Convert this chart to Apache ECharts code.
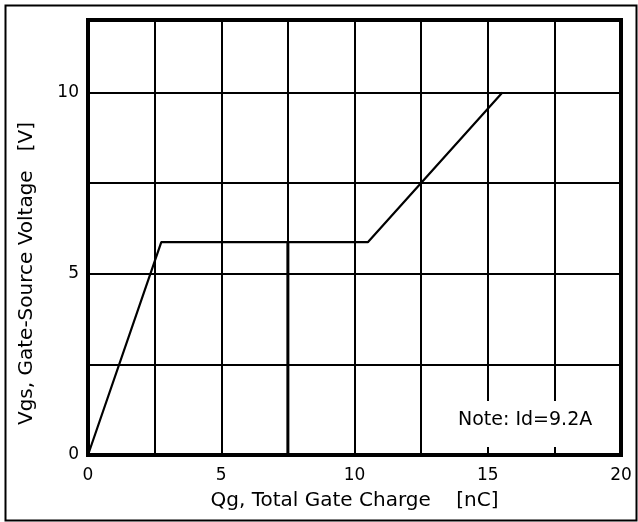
<!DOCTYPE html>
<html>
<head>
<meta charset="utf-8">
<script src="https://cdn.jsdelivr.net/npm/echarts@6/dist/echarts.min.js"></script>
<style>
html,body{margin:0;padding:0;background:#fff;}
#c{width:638px;height:522px;}
</style>
</head>
<body>
<div id="c"></div>
<script>
// Data
var qg = [0, 2.75, 10.5, 15.55];
var vgs = [0, 5.87, 5.87, 10];
var markX = [7.5, 7.5];
var markY = [0, 5.87];
var xTicks = [0, 5, 10, 15, 20];
var yTicks = [0, 5, 10];
var xTitle = 'Qg, Total Gate Charge    [nC]';
var yTitle = 'Vgs, Gate-Source Voltage   [V]';
var noteText = 'Note: Id=9.2A';

var font = 'DejaVu Sans';
var chart = echarts.init(document.getElementById('c'));
chart.setOption({
  animation: false,
  backgroundColor: '#fff',
  grid: {left: 88, top: 20, right: 17, bottom: 67, show: true, borderColor: '#000', borderWidth: 4, backgroundColor: 'transparent', z: 5},
  xAxis: {
    type: 'value', min: 0, max: 20, interval: 2.5,
    axisLine: {show: false}, axisTick: {show: false},
    splitLine: {show: true, lineStyle: {color: '#000', width: 2}},
    axisLabel: {color: '#000', fontFamily: font, fontSize: 17, margin: 12,
      formatter: function (v) { return xTicks.indexOf(v) >= 0 ? String(v) : ''; }},
    name: xTitle, nameLocation: 'middle', nameGap: 36,
    nameTextStyle: {color: '#000', fontFamily: font, fontSize: 20}
  },
  yAxis: {
    type: 'value', min: 0, max: 12, interval: 2.5,
    axisLine: {show: false}, axisTick: {show: false},
    splitLine: {show: true, lineStyle: {color: '#000', width: 2}},
    axisLabel: {color: '#000', fontFamily: font, fontSize: 17, margin: 9,
      showMaxLabel: false,
      formatter: function (v) { return yTicks.indexOf(v) >= 0 ? String(v) : ''; }},
    name: yTitle, nameLocation: 'middle', nameGap: 51,
    nameTextStyle: {color: '#000', fontFamily: font, fontSize: 20, padding: [0, 72, 0, 0]}
  },
  series: [
    {type: 'line', data: qg.map(function (x, i) { return [x, vgs[i]]; }), symbol: 'none',
     lineStyle: {color: '#000', width: 2.2}, z: 3},
    {type: 'line', data: markX.map(function (x, i) { return [x, markY[i]]; }), symbol: 'none',
     lineStyle: {color: '#000', width: 3}, z: 3}
  ],
  graphic: [
    {type: 'rect', left: 3, top: 3, shape: {width: 631, height: 515}, style: {fill: 'none', stroke: '#000', lineWidth: 2}, z: 10},
    {type: 'rect', left: 440, top: 401, shape: {width: 178, height: 46}, style: {fill: '#fff'}, z: 4},
    {type: 'text', x: 458, y: 420, style: {text: noteText, fill: '#000', font: '19px "DejaVu Sans"', textVerticalAlign: 'middle', verticalAlign: 'middle'}, z: 6}
  ]
});
</script>
</body>
</html>
